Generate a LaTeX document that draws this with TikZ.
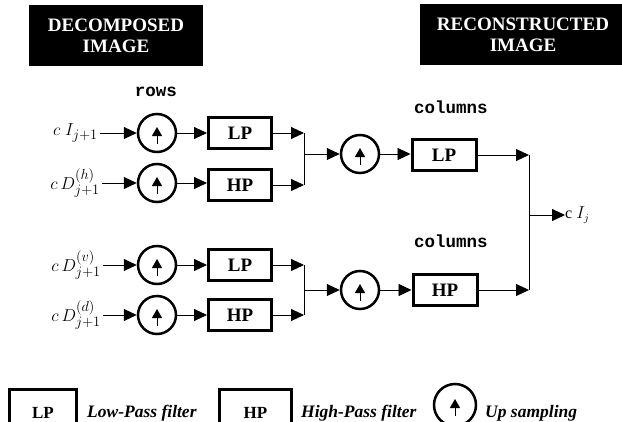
\documentclass[tikz,border=0pt]{standalone}
\usepackage{fontspec}
\setmainfont{Liberation Serif}
\newfontfamily\monofam{Liberation Mono}
\usetikzlibrary{arrows.meta}
\begin{document}
\begin{tikzpicture}[x=1pt,y=-1pt,
  conn/.style={line width=0.9pt, -{Triangle[length=13pt,width=12pt]}},
  plain/.style={line width=0.9pt},
  filt/.style={draw, line width=3pt, minimum width=63pt, minimum height=31pt, inner sep=0pt, font=\fontsize{19}{21}\selectfont\bfseries},
  ups/.style={draw, circle, line width=2.5pt, minimum size=38pt, inner sep=0pt,
    path picture={\draw[line width=1pt,-{Triangle[length=9pt,width=10pt]}] ([yshift=-11pt]path picture bounding box.center) -- ([yshift=6pt]path picture bounding box.center);}},
  hdr/.style={fill=black, text=white, font=\fontsize{19}{21}\selectfont\bfseries, align=center, inner sep=0pt},
  inlab/.style={anchor=east, inner ysep=0pt, inner xsep=2pt, font=\fontsize{19}{22}\selectfont},
  mono/.style={font=\fontsize{17.5}{20}\selectfont\monofam\bfseries, inner sep=0pt},
  leg/.style={anchor=west, inner sep=0pt, font=\fontsize{17.5}{20}\selectfont\bfseries\itshape}
]
\useasboundingbox (0,0) rectangle (622,421);

% headers
\node[hdr, minimum width=174pt, minimum height=61pt] (dec) at (116,35.5) {DECOMPOSED\\IMAGE};
\node[hdr, minimum width=206pt, minimum height=61pt] (rec) at (523,34.5) {RECONSTRUCTED\\IMAGE};

% labels
\node[mono] (rows) at (156,92) {rows};
\node[mono] (cols1) at (451,107) {columns};
\node[mono] (cols2) at (451,241) {columns};

% inputs
\node[inlab] (i1) at (100,133) {$c\ I_{j+1}$};
\node[inlab] (i2) at (102,183) {$c\,D^{(h)}_{j+1}$};
\node[inlab] (i3) at (103,265) {$c\,D^{(v)}_{j+1}$};
\node[inlab] (i4) at (103,315) {$c\,D^{(d)}_{j+1}$};

% row stage
\node[ups] (u1) at (157,133) {};
\node[ups] (u2) at (157,183) {};
\node[ups] (u3) at (157,265) {};
\node[ups] (u4) at (157,315) {};
\node[filt] (f1) at (240,133) {LP};
\node[filt] (f2) at (240,185) {HP};
\node[filt] (f3) at (240,265) {LP};
\node[filt] (f4) at (240,315) {HP};

\foreach \k in {1,2,3,4}{
  \draw[conn] (i\k.east) -- (u\k.west);
  \draw[conn] (u\k.east) -- (u\k.east -| f\k.west);
}

% merge points
\coordinate (m1a) at (304,133);
\coordinate (m1b) at (304,185);
\coordinate (m1) at (304,154);
\coordinate (m2a) at (304,265);
\coordinate (m2b) at (304,315);
\coordinate (m2) at (304,290);
\draw[conn] (f1.east) -- (m1a);
\draw[conn] (f2.east) -- (m1b);
\draw[conn] (f3.east) -- (m2a);
\draw[conn] (f4.east) -- (m2b);
\draw[plain] (m1a) -- (m1b);
\draw[plain] (m2a) -- (m2b);

% column stage
\node[ups] (c1) at (360,154) {};
\node[ups] (c2) at (360,290) {};
\node[filt, minimum width=64pt] (g1) at (444,155) {LP};
\node[filt, minimum width=64pt] (g2) at (445,290) {HP};
\draw[conn] (m1) -- (c1.west);
\draw[conn] (m2) -- (c2.west);
\draw[conn] (c1.east) -- (c1.east -| g1.west);
\draw[conn] (c2.east) -- (g2.west);

% output
\coordinate (o1) at (529,155);
\coordinate (o2) at (529,290);
\coordinate (om) at (529,215);
\node[anchor=west, inner sep=0pt, font=\fontsize{16}{18}\selectfont] (out) at (565,215) {c $I_j$};
\draw[conn] (g1.east) -- (o1);
\draw[conn] (g2.east) -- (o2);
\draw[plain] (o1) -- (o2);
\draw[conn] (om) -- (out.west);

% legend
\node[filt, minimum width=67pt, minimum height=47pt, font=\fontsize{17}{19}\selectfont\bfseries] (llp) at (43,413) {LP};
\node[leg] (tlp) at (87,413) {Low-Pass filter};
\node[filt, minimum width=72pt, minimum height=47pt, font=\fontsize{17}{19}\selectfont\bfseries] (lhp) at (255.5,413) {HP};
\node[leg] (thp) at (301,413) {High-Pass filter};
\node[ups, minimum size=42pt] (lup) at (455,405) {};
\node[leg] (tup) at (485,413) {Up sampling};
\end{tikzpicture}
\end{document}
